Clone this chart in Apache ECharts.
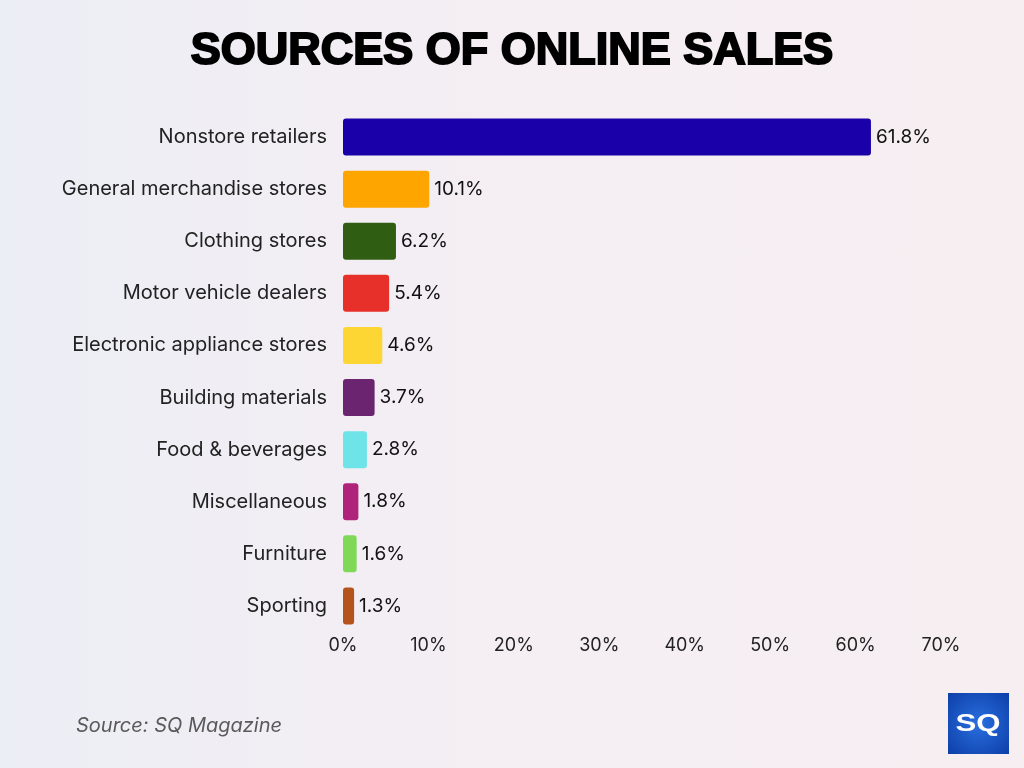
<!DOCTYPE html>
<html><head><meta charset="utf-8">
<script src="https://cdn.jsdelivr.net/npm/echarts@6/dist/echarts.min.js"></script>
<style>html,body{margin:0;padding:0;}#c{width:1024px;height:768px;background:linear-gradient(90deg,#eceef5 0%,#f5eef3 50%,#f6eef1 100%);}</style>
</head><body><div id="c"></div>
<script>
const categories = ["Nonstore retailers","General merchandise stores","Clothing stores","Motor vehicle dealers","Electronic appliance stores","Building materials","Food & beverages","Miscellaneous","Furniture","Sporting"];
const values = [61.8,10.1,6.2,5.4,4.6,3.7,2.8,1.8,1.6,1.3];
const colors = ["#1a00a8","#ffa500","#2f5e12","#e8302a","#fdd633","#6b2570","#6ee3e8","#b0237b","#7fd956","#b4531b"];
const tickLabels = ["0%","10%","20%","30%","40%","50%","60%","70%"];

const chart = echarts.init(document.getElementById('c'));
chart.setOption({
  backgroundColor: 'transparent',
  title: {text: 'SOURCES OF ONLINE SALES', left: 'center', top: 24,
    textStyle: {fontFamily: 'Liberation Sans', fontWeight: 900, fontSize: 45, color: '#000',
      textBorderColor: '#000', textBorderWidth: 2}},
  grid: {left: 343, right: 83, top: 111, bottom: 136},
  xAxis: {type: 'value', min: 0, max: 70, interval: 10,
    axisLabel: {formatter: v => tickLabels[v/10], fontFamily: 'Inter', fontSize: 18, color: '#222', margin: 5},
    splitLine: {show: false}, axisLine: {show: false}, axisTick: {show: false}},
  yAxis: {type: 'category', data: categories, inverse: true,
    axisLabel: {fontFamily: 'Inter', fontSize: 20, color: '#222', margin: 16, padding: [4,0,0,0]},
    axisLine: {show: false}, axisTick: {show: false}},
  series: [{type: 'bar', barWidth: 37,
    data: values.map((v,i) => ({value: v, itemStyle: {color: colors[i], borderRadius: 3}})),
    label: {show: true, position: 'right', formatter: p => p.value + '%', fontFamily: 'Inter', fontSize: 19, color: '#111', distance: 5, padding: [3,0,0,0]}}],
  graphic: [
    {type: 'text', left: 76, top: 716, style: {text: 'Source: SQ Magazine', font: 'italic 20px Inter', fill: '#5a5a5a'}},
    {type: 'rect', left: 948, top: 693, shape: {width: 61, height: 61},
      style: {fill: {type: 'radial', x: 0.5, y: 0.5, r: 0.7, colorStops: [{offset: 0, color: '#2a6fe0'}, {offset: 1, color: '#0d3fa8'}]}}},
    {type: 'group', x: 978, y: 724, scaleX: 1.3, children: [
      {type: 'text', x: 0, y: 0, style: {text: 'SQ', font: 'bold 24px "Liberation Sans"', fill: '#fff', align: 'center', verticalAlign: 'middle'}}
    ]}
  ]
});
</script></body></html>
